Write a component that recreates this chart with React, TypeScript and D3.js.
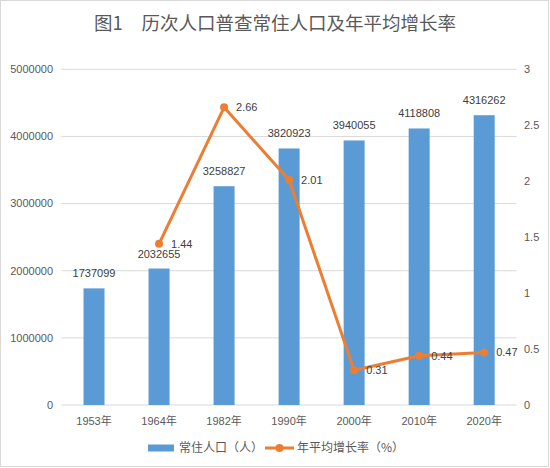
import React from "react";
import * as d3 from "d3";

const categories = ["1953年", "1964年", "1982年", "1990年", "2000年", "2010年", "2020年"];
const population = [1737099, 2032655, 3258827, 3820923, 3940055, 4118808, 4316262];
const growthYears = ["1964年", "1982年", "1990年", "2000年", "2010年", "2020年"];
const growthRate = [1.44, 2.66, 2.01, 0.31, 0.44, 0.47];
const leftTicks = [0, 1000000, 2000000, 3000000, 4000000, 5000000];
const rightTicks = [0, 0.5, 1, 1.5, 2, 2.5, 3];
const title = "图1　历次人口普查常住人口及年平均增长率";
const legendBar = "常住人口（人）";
const legendLine = "年平均增长率（%）";

const W = 550;
const H = 468;
const plot = { left: 61.5, right: 516.7, top: 69.3, bottom: 405 };
const BAR = "#5B9BD5";
const LINE = "#ED7D31";
const AXIS_TEXT = "#595959";
const LABEL_TEXT = "#404040";
const GRID = "#D9D9D9";
const FONT = "'Liberation Sans', 'Noto Sans CJK SC', sans-serif";
const CJK = "'Noto Sans CJK SC', 'Liberation Sans', sans-serif";

export default function App() {
  const x = d3.scaleBand<string>().domain(categories).range([plot.left, plot.right]).paddingInner(0).paddingOuter(0);
  const yL = d3.scaleLinear().domain([0, 5000000]).range([plot.bottom, plot.top]);
  const yR = d3.scaleLinear().domain([0, 3]).range([plot.bottom, plot.top]);
  const barW = 21;
  const cx = (c: string) => (x(c) as number) + x.bandwidth() / 2;

  const line = d3
    .line<number>()
    .x((_, i) => cx(growthYears[i]))
    .y((d) => yR(d));

  return (
    <svg
      width={W}
      height={H}
      style={{ position: "fixed", left: 0, top: 0, background: "#fff" }}
      fontFamily={FONT}
    >
      <rect x={0.5} y={0.5} width={W - 2} height={H - 2} fill="#fff" stroke={GRID} />
      <text x={275} y={30} textAnchor="middle" fontSize={18.5} fill={AXIS_TEXT} fontFamily={CJK}>
        {title}
      </text>

      {leftTicks.map((t) => (
        <g key={"g" + t}>
          <line x1={plot.left} x2={plot.right} y1={yL(t)} y2={yL(t)} stroke={GRID} strokeWidth={1} />
          <text x={53} y={yL(t)} dy="0.35em" textAnchor="end" fontSize={11} fill={AXIS_TEXT}>
            {t}
          </text>
        </g>
      ))}
      {rightTicks.map((t) => (
        <text key={"r" + t} x={524} y={yR(t)} dy="0.35em" textAnchor="start" fontSize={11} fill={AXIS_TEXT}>
          {t}
        </text>
      ))}

      {categories.map((c) => (
        <text key={"c" + c} x={cx(c)} y={425} textAnchor="middle" fontSize={11} fill={AXIS_TEXT}>
          {c}
        </text>
      ))}

      {categories.map((c, i) => (
        <g key={"b" + c}>
          <rect
            x={cx(c) - barW / 2}
            y={yL(population[i])}
            width={barW}
            height={plot.bottom - yL(population[i])}
            fill={BAR}
          />
          <text x={cx(c)} y={yL(population[i]) - 11} textAnchor="middle" fontSize={11} fill={LABEL_TEXT}>
            {population[i]}
          </text>
        </g>
      ))}

      <path d={line(growthRate) || ""} fill="none" stroke={LINE} strokeWidth={3} strokeLinejoin="round" strokeLinecap="round" />
      {growthRate.map((v, i) => (
        <g key={"p" + i}>
          <circle cx={cx(growthYears[i])} cy={yR(v)} r={4} fill={LINE} />
          <text x={cx(growthYears[i]) + 12} y={yR(v)} dy="0.35em" fontSize={11} fill={LABEL_TEXT}>
            {v.toFixed(2)}
          </text>
        </g>
      ))}

      <g>
        <rect x={148} y={444.5} width={26} height={7} fill={BAR} />
        <text x={179} y={448} dy="0.35em" fontSize={12} fill={AXIS_TEXT} fontFamily={CJK}>
          {legendBar}
        </text>
        <line x1={265} x2={294} y1={448} y2={448} stroke={LINE} strokeWidth={3} />
        <circle cx={279.5} cy={448} r={4} fill={LINE} />
        <text x={297} y={448} dy="0.35em" fontSize={12} fill={AXIS_TEXT} fontFamily={CJK}>
          {legendLine}
        </text>
      </g>
    </svg>
  );
}
